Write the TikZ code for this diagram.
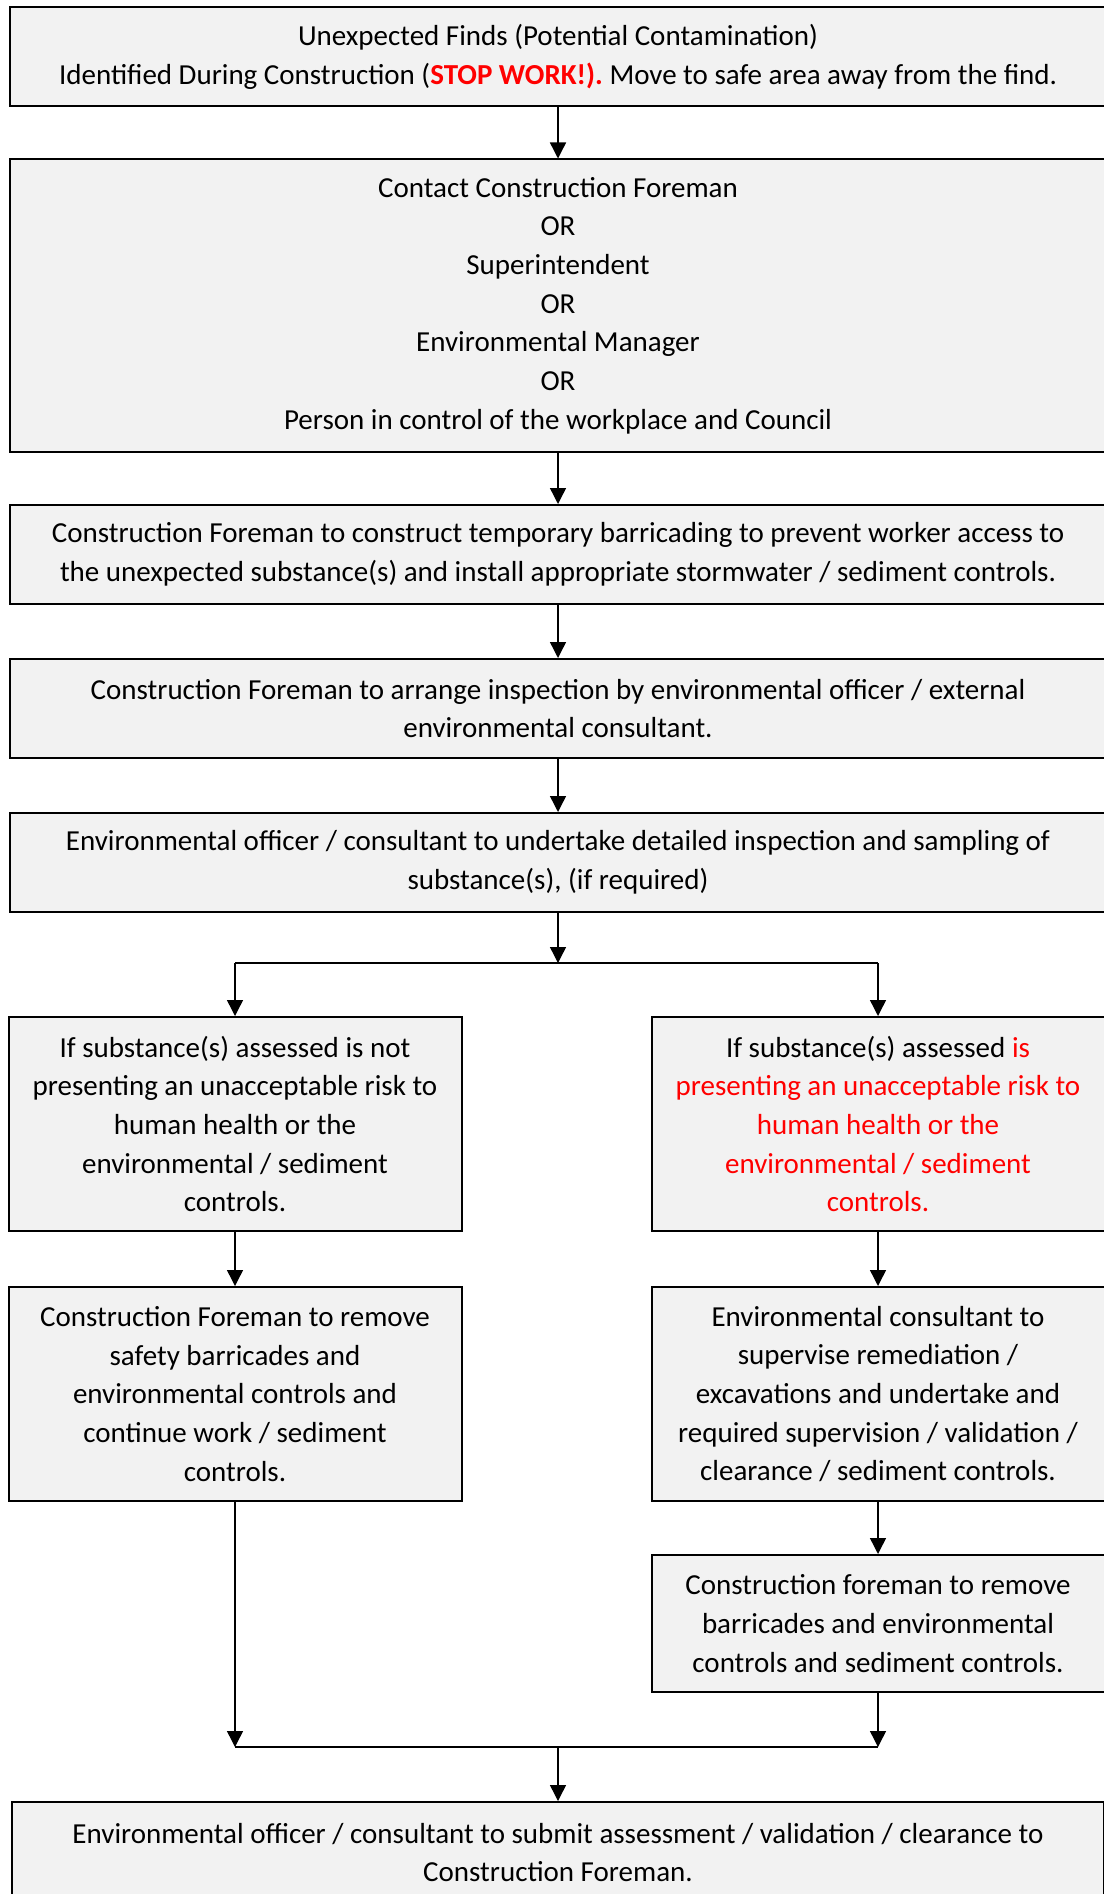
\documentclass[tikz,border=0pt]{standalone}
\usepackage{fontspec}
\setmainfont{Carlito}
\usepackage{tikz}
\usetikzlibrary{arrows.meta}
\definecolor{boxfill}{HTML}{F2F2F2}
\definecolor{alertred}{HTML}{FF0000}
\newcommand{\warn}[1]{\textcolor{alertred}{#1}}
\frenchspacing

\begin{document}
\begin{tikzpicture}[
  x=1pt, y=-1pt,
  font=\fontsize{29}{38.7}\selectfont,
  stepbox/.style={draw=black, line width=2pt, fill=boxfill, inner sep=0pt, align=center},
  wide/.style={stepbox, minimum width=1096pt},
  half/.style={stepbox, minimum width=453pt},
  flow/.style={-{Triangle[length=16pt, width=16pt]}, line width=1.4pt},
  link/.style={line width=2pt}
]
  \useasboundingbox (0,0) rectangle (1103,1894);

  \node[wide, minimum height=99pt] (finds) at (558,57) {Unexpected Finds (Potential Contamination)\\Identified During Construction (\textbf{\warn{STOP WORK!).}} Move to safe area away from the find.};
  \node[wide, minimum height=292pt] (contact) at (558,305.5) {Contact Construction Foreman\\OR\\Superintendent\\OR\\Environmental Manager\\OR\\Person in control of the workplace and Council};
  \node[wide, minimum height=99pt] (barricade) at (558,554.5) {Construction Foreman to construct temporary barricading to prevent worker access to\\the unexpected substance(s) and install appropriate stormwater / sediment controls.};
  \node[wide, minimum height=99pt] (inspect) at (558,708.5) {Construction Foreman to arrange inspection by environmental officer / external\\environmental consultant.};
  \node[wide, minimum height=99pt] (sampling) at (558,862.5) {Environmental officer / consultant to undertake detailed inspection and sampling of\\substance(s), (if required)};

  \node[half, minimum height=214pt] (lowrisk) at (235,1124) {If substance(s) assessed is not\\presenting an unacceptable risk to\\human health or the\\environmental / sediment\\controls.};
  \node[half, minimum height=214pt] (highrisk) at (878,1124) {If substance(s) assessed \warn{is}\\\warn{presenting an unacceptable risk to}\\\warn{human health or the}\\\warn{environmental / sediment}\\\warn{controls.}};

  \node[half, minimum height=214pt] (resume) at (235,1394) {Construction Foreman to remove\\safety barricades and\\environmental controls and\\continue work / sediment\\controls.};
  \node[half, minimum height=214pt] (remediate) at (878,1394) {Environmental consultant to\\supervise remediation /\\excavations and undertake and\\required supervision / validation /\\clearance / sediment controls.};
  \node[half, minimum height=137pt] (removal) at (878,1623.5) {Construction foreman to remove\\barricades and environmental\\controls and sediment controls.};

  \node[wide, minimum height=101pt, minimum width=1092pt] (submit) at (558,1852.5) {Environmental officer / consultant to submit assessment / validation / clearance to\\Construction Foreman.};

  \coordinate (splitC) at (558,963);
  \coordinate (splitL) at (235,963);
  \coordinate (splitR) at (878,963);
  \coordinate (joinC) at (558,1747);
  \coordinate (joinL) at (235,1747);
  \coordinate (joinR) at (878,1747);

  \draw[flow] (finds) -- (contact);
  \draw[flow] (contact) -- (barricade);
  \draw[flow] (barricade) -- (inspect);
  \draw[flow] (inspect) -- (sampling);
  \draw[flow] (sampling) -- (splitC);
  \draw[link] (splitL) -- (splitR);
  \draw[flow] (splitL) -- (lowrisk);
  \draw[flow] (splitR) -- (highrisk);
  \draw[flow] (lowrisk) -- (resume);
  \draw[flow] (highrisk) -- (remediate);
  \draw[flow] (remediate) -- (removal);
  \draw[flow] (resume) -- (joinL);
  \draw[flow] (removal) -- (joinR);
  \draw[link] (joinL) -- (joinR);
  \draw[flow] (joinC) -- (submit);
\end{tikzpicture}
\end{document}
